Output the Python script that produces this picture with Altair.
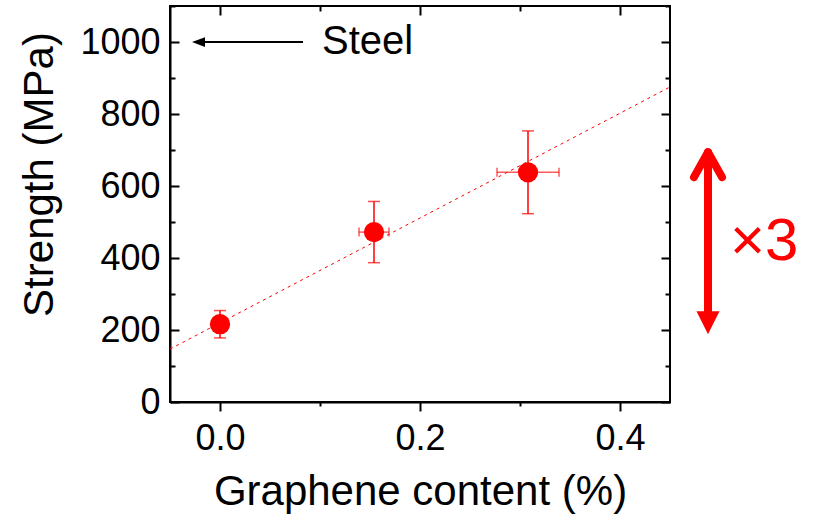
import altair as alt
import pandas as pd

# ---- data ----
content = [0.0, 0.154, 0.308]          # graphene content (%)
strength = [216, 472, 638]             # strength (MPa)
strength_err = [38, 85, 115]
content_err = [0.0, 0.015, 0.031]

fit_content = [-0.05, 0.45]
fit_strength = [147, 875]

x_ticks_major = [0.0, 0.2, 0.4]
x_ticks_minor = [0.1, 0.3]
y_ticks_major = [0, 200, 400, 600, 800, 1000]
y_ticks_minor = [100, 300, 500, 700, 900, 1100]

steel_value = 1000
steel_label = "Steel"
steel_arrow_tip = -0.028
steel_arrow_tail = 0.083
steel_label_x = 0.102

gain_label = "×3"
gain_x = 0.488
gain_tips = [188, 694]        # bottom tip, top tip (MPa scale)
gain_shaft = [240, 694]
gain_label_x = 0.51
gain_label_y = 444

FONT = "Liberation Sans"
RED = "#ff0000"

xs = alt.Scale(domain=[-0.05, 0.45], nice=False, zero=False)
ys = alt.Scale(domain=[0, 1100], nice=False, zero=False)

pts = pd.DataFrame({"x": content, "y": strength,
                    "ylo": [s - e for s, e in zip(strength, strength_err)],
                    "yhi": [s + e for s, e in zip(strength, strength_err)],
                    "xlo": [c - e for c, e in zip(content, content_err)],
                    "xhi": [c + e for c, e in zip(content, content_err)],
                    "xe": content_err})
hpts = pts[pts["xe"] > 0]

vcaps = pd.DataFrame({"x": content * 2, "y": list(pts["ylo"]) + list(pts["yhi"])})
hcaps = pd.DataFrame({"x": list(hpts["xlo"]) + list(hpts["xhi"]),
                      "y": list(hpts["y"]) * 2})
fit = pd.DataFrame({"x": fit_content, "y": fit_strength})


def tick_axis(orient, values, size, offset):
    return alt.Axis(orient=orient, values=values, tickSize=size, tickWidth=2,
                    tickColor="black", offset=offset, labels=False, domain=False,
                    title=None, grid=False)


ax_bottom = alt.Axis(orient="bottom", values=x_ticks_major, format=".1f", tickSize=9,
                     tickWidth=2, tickColor="black", domainColor="black", domainWidth=2,
                     labelFont=FONT, labelFontSize=36, labelColor="black", labelPadding=10,
                     labelFlush=False, labelOverlap=False, grid=False,
                     title="Graphene content (%)", titleFont=FONT, titleFontSize=42,
                     titleFontWeight="normal", titleColor="black", titlePadding=15)
ax_left = alt.Axis(orient="left", values=y_ticks_major, format="d", ticks=False,
                   domainColor="black", domainWidth=2, labelFont=FONT, labelFontSize=36,
                   labelColor="black", labelPadding=10, labelFlush=False,
                   labelOverlap=False, grid=False,
                   title="Strength (MPa)", titleFont=FONT, titleFontSize=42,
                   titleFontWeight="normal", titleColor="black", titlePadding=18,
                   titleY=168)


def X(field, axis):
    return alt.X(field, type="quantitative", scale=xs, axis=axis)


def Y(field, axis):
    return alt.Y(field, type="quantitative", scale=ys, axis=axis)


fit_line = alt.Chart(fit).mark_line(color=RED, strokeWidth=1, strokeDash=[3, 4]).encode(
    x=X("x", ax_bottom), y=Y("y", ax_left))

vbars = alt.Chart(pts).mark_rule(color=RED, strokeWidth=1.5).encode(
    x=X("x", tick_axis("bottom", x_ticks_minor, 4, 0)),
    y=Y("ylo", tick_axis("left", y_ticks_major, 9, -9)), y2="yhi")

vcap = alt.Chart(vcaps).mark_tick(color=RED, orient="horizontal", size=12, thickness=1.5).encode(
    x=X("x", tick_axis("top", x_ticks_major, 9, -9)),
    y=Y("y", tick_axis("left", y_ticks_minor, 5, -5)))

hbars = alt.Chart(hpts).mark_rule(color=RED, strokeWidth=1.5, opacity=0.65).encode(
    x=X("xlo", tick_axis("top", x_ticks_minor, 5, -5)), x2="xhi",
    y=Y("y", tick_axis("right", y_ticks_major, 9, -9)))

hcap = alt.Chart(hcaps).mark_tick(color=RED, orient="vertical", size=9, thickness=1.5, opacity=0.65).encode(
    x=X("x", None),
    y=Y("y", tick_axis("right", y_ticks_minor, 5, -5)))

points = alt.Chart(pts).mark_point(filled=True, shape="circle", size=410, color=RED, opacity=1).encode(
    x=X("x", None), y=Y("y", None))

steel_df = pd.DataFrame({"x": [steel_arrow_tip + 0.008], "x2": [steel_arrow_tail],
                         "tip": [steel_arrow_tip], "y": [steel_value],
                         "lx": [steel_label_x], "label": [steel_label]})
steel_line = alt.Chart(steel_df).mark_rule(color="black", strokeWidth=2).encode(
    x=X("x", None), x2="x2", y=Y("y", None))
steel_head = alt.Chart(steel_df).mark_point(shape="M0,0L2,-0.75L2,0.75Z", filled=True,
                                            size=169, color="black", opacity=1).encode(
    x=X("tip", None), y=Y("y", None))
steel_text = alt.Chart(steel_df).mark_text(align="left", baseline="middle", font=FONT,
                                           fontSize=40, color="black").encode(
    x=X("lx", None), y=Y("y", None), text="label")

gain_df = pd.DataFrame({"x": [gain_x], "y0": [gain_shaft[0]], "y1": [gain_shaft[1]],
                        "bot": [gain_tips[0]], "top": [gain_tips[1]],
                        "lx": [gain_label_x], "ly": [gain_label_y], "label": [gain_label]})
gain_shaft_m = alt.Chart(gain_df).mark_rule(color=RED, strokeWidth=8, strokeCap="round").encode(
    x=X("x", None), y=Y("y0", None), y2="y1")
gain_top = alt.Chart(gain_df).mark_point(shape="M-0.7,1.25L0,0L0.7,1.25", filled=False, size=1600,
                                         color=RED, strokeWidth=8, strokeCap="round",
                                         strokeJoin="round", opacity=1).encode(
    x=X("x", None), y=Y("top", None))
gain_bot = alt.Chart(gain_df).mark_point(shape="M-1,-2L1,-2L0,0Z", filled=True, size=529,
                                         color=RED, opacity=1).encode(
    x=X("x", None), y=Y("bot", None))
gain_text = alt.Chart(gain_df).mark_text(align="left", baseline="middle", font=FONT,
                                         fontSize=60, color=RED).encode(
    x=X("lx", None), y=Y("ly", None), text="label")

chart = alt.layer(
    fit_line, vbars, vcap, hbars, hcap, points,
    steel_line, steel_head, steel_text,
    gain_shaft_m, gain_top, gain_bot, gain_text
).resolve_axis(x="independent", y="independent").properties(
    width=500, height=396,
    autosize=alt.AutoSizeParams(type="none"),
    padding={"left": 170, "top": 6, "right": 144, "bottom": 114},
    background="white"
).configure_view(stroke="black", strokeWidth=2)

chart.save("out.html", embed_options={"renderer": "svg", "actions": False})
